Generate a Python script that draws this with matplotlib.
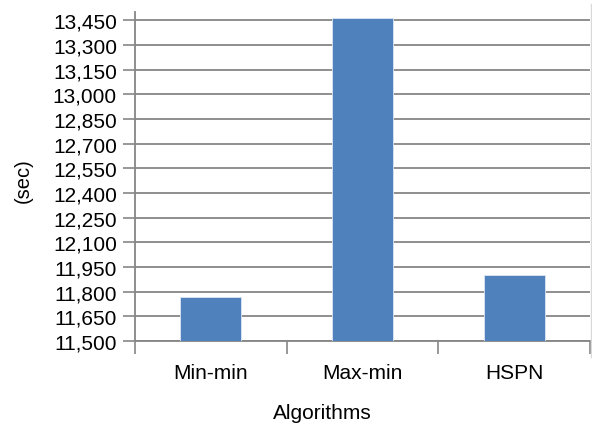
import matplotlib.pyplot as plt
from matplotlib.lines import Line2D
from matplotlib.ticker import FuncFormatter

# ── Daten ─────────────────────────────────────────────────────────────────────
algorithms = ["Min-min", "Max-min", "HSPN"]
makespan   = [11765, 13462, 11900]
y_ticks    = [11500 + 150 * i for i in range(14)]

plt.rcParams["font.family"] = ["Liberation Sans", "DejaVu Sans"]

W, H = 592, 427
fig = plt.figure(figsize=(W / 100, H / 100), dpi=100)
ax = fig.add_axes([135 / W, 1 - 342 / H, (590 - 135) / W, (342 - 13) / H])

x = range(len(algorithms))
ax.bar(x, makespan, width=0.4, color="#4F81BD", edgecolor="#DCE6F2",
       linewidth=0.6, zorder=3)

ax.set_xlim(-0.5, len(algorithms) - 0.5)
ax.set_ylim(11500, 13500)
ax.set_yticks(y_ticks)
ax.yaxis.set_major_formatter(FuncFormatter(lambda v, _: f"{v:,.0f}"))

# Kategorie-Grenzen als Ticks, Beschriftung mittig
ax.set_xticks([-0.5, 0.5, 1.5, 2.5])
ax.set_xticklabels([])
ax.set_xticks(list(x), minor=True)
ax.set_xticklabels(algorithms, minor=True, fontsize=15)
ax.tick_params(axis="x", which="minor", length=0, pad=16)
ax.tick_params(axis="x", which="major", length=9, width=1.2, color="#868686")
ax.tick_params(axis="y", length=9, width=1.2, color="#868686", labelsize=15, pad=4)

ax.grid(axis="y", color="#868686", linewidth=1.3, zorder=0)
for side in ["top", "right"]:
    ax.spines[side].set_visible(False)
for side in ["left", "bottom"]:
    ax.spines[side].set_color("#868686")
    ax.spines[side].set_linewidth(1.3)

# schwacher Rahmen rechts
fig.add_artist(Line2D([590.5 / W, 590.5 / W], [1 - 5 / H, 1 - 358 / H],
                      color="#D9D9D9", linewidth=1.0))

# Achsentitel
fig.text(23 / W, 1 - 181 / H, "(sec)", rotation=90, fontsize=14.5,
         ha="center", va="center")
fig.text(322 / W, 1 - 414 / H, "Algorithms", fontsize=15,
         ha="center", va="center")

fig.savefig("out.png", dpi=100)
